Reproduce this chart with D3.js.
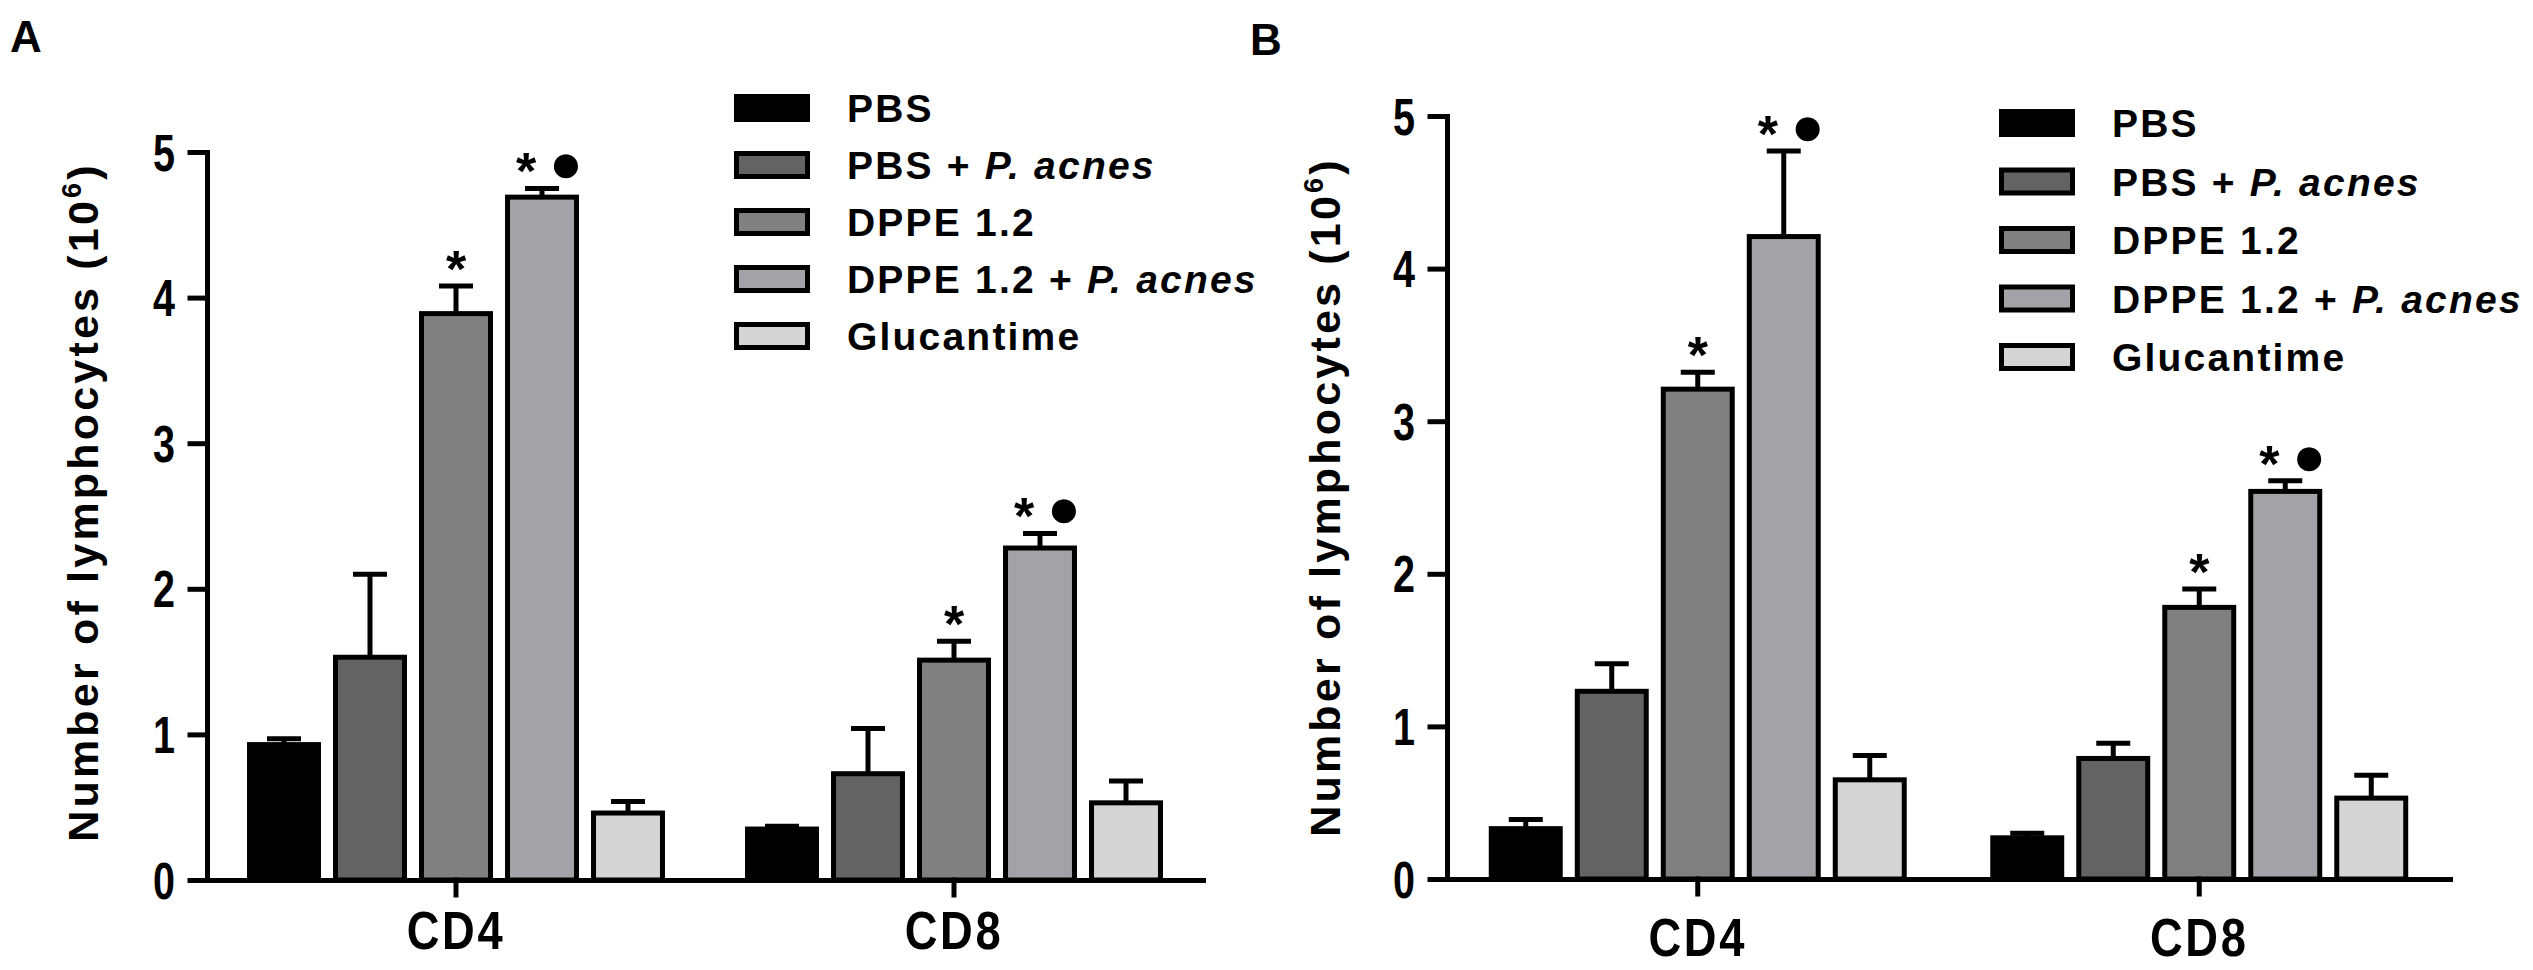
<!DOCTYPE html>
<html>
    <head>
        <meta charset="utf-8">
        <title>Number of lymphocytes</title>
        <script src="https://d3js.org/d3.v7.min.js" charset="utf-8"></script>
        <style>
            body { margin: 0; background: #fff; }
            svg { display: block; }
            text { font-family: "Liberation Sans", Arial, sans-serif; font-weight: bold; fill: #000; }
            .axis path, .axis line { stroke: #000; stroke-width: 5px; stroke-linecap: square; }
            .bar { stroke: #000; stroke-width: 5px; }
            .err { stroke: #000; stroke-width: 5px; }
        </style>
    </head>
    <body>
        <script>
            // categories and treatment groups
            var categories = ["CD4", "CD8"];
            var treatments = ["PBS", "PBS + P. acnes", "DPPE 1.2", "DPPE 1.2 + P. acnes", "Glucantime"];
            var yTicks = [0, 1, 2, 3, 4, 5];

            // panel A (mean and SEM, 10^6 cells)
            var meanA_CD4 = [0.93, 1.53, 3.89, 4.69, 0.46];
            var semA_CD4  = [0.04, 0.57, 0.19, 0.06, 0.08];
            var meanA_CD8 = [0.35, 0.73, 1.51, 2.28, 0.53];
            var semA_CD8  = [0.02, 0.31, 0.13, 0.10, 0.15];

            // panel B
            var meanB_CD4 = [0.33, 1.23, 3.21, 4.21, 0.65];
            var semB_CD4  = [0.06, 0.18, 0.11, 0.56, 0.16];
            var meanB_CD8 = [0.27, 0.79, 1.78, 2.54, 0.53];
            var semB_CD8  = [0.03, 0.10, 0.12, 0.07, 0.15];

            // significance marks per treatment (same in every group)
            var marks = ["", "", "*", "*●", ""];

            var fills = ["#000000", "#636363", "#808080", "#a3a3a7", "#d5d5d5"];

            var svg = d3.select("body").append("svg")
                        .attr("width", 2533)
                        .attr("height", 970);

            function panel(cfg) {
                var g = svg.append("g");

                var y = d3.scaleLinear().domain([0, 5]).range([cfg.y0, cfg.y5]);
                var xOuter = d3.scaleBand().domain(categories).range([cfg.x0, cfg.x1]).padding(0);
                var xInner = d3.scaleBand().domain(treatments).range([-215, 215])
                                .paddingInner(0.14).paddingOuter(0.07);

                var rows = [];
                categories.forEach(function(c, ci) {
                    treatments.forEach(function(t, ti) {
                        rows.push({
                            cat: c, t: t, i: ti,
                            mean: cfg.means[ci][ti],
                            sem: cfg.sems[ci][ti],
                            mark: marks[ti],
                            cx: xOuter(c) + xOuter.bandwidth() / 2 + xInner(t) + xInner.bandwidth() / 2
                        });
                    });
                });

                // bars
                g.selectAll(".bar")
                    .data(rows)
                  .enter().append("rect")
                    .attr("class", "bar")
                    .attr("x", function(d) { return d.cx - xInner.bandwidth() / 2 + 2.5; })
                    .attr("width", xInner.bandwidth() - 5)
                    .attr("y", function(d) { return y(d.mean); })
                    .attr("height", function(d) { return cfg.y0 - y(d.mean); })
                    .attr("fill", function(d) { return fills[d.i]; });

                // error bars (upper only)
                var eb = g.selectAll(".errg")
                    .data(rows)
                  .enter().append("g");
                eb.append("line")
                    .attr("class", "err")
                    .attr("x1", function(d) { return d.cx; })
                    .attr("x2", function(d) { return d.cx; })
                    .attr("y1", function(d) { return y(d.mean); })
                    .attr("y2", function(d) { return y(d.mean + d.sem); });
                eb.append("line")
                    .attr("class", "err")
                    .attr("x1", function(d) { return d.cx - 17; })
                    .attr("x2", function(d) { return d.cx + 17; })
                    .attr("y1", function(d) { return y(d.mean + d.sem); })
                    .attr("y2", function(d) { return y(d.mean + d.sem); });

                // significance marks
                var sig = rows.filter(function(d) { return d.mark; });
                g.selectAll(".star")
                    .data(sig)
                  .enter().append("text")
                    .attr("text-anchor", "middle")
                    .attr("font-size", 52)
                    .attr("x", function(d) { return d.mark.length > 1 ? d.cx - 16 : d.cx; })
                    .attr("y", function(d) { return y(d.mean + d.sem) + 1; })
                    .text("*");
                g.selectAll(".dot")
                    .data(sig.filter(function(d) { return d.mark.length > 1; }))
                  .enter().append("text")
                    .attr("text-anchor", "middle")
                    .attr("font-size", 56)
                    .attr("x", function(d) { return d.cx + 24; })
                    .attr("y", function(d) { return y(d.mean + d.sem) - 6; })
                    .text("●");

                // y axis
                var ya = g.append("g")
                    .attr("class", "axis")
                    .attr("transform", "translate(" + cfg.x0 + ",0)")
                    .call(d3.axisLeft(y).tickValues(yTicks).tickFormat(d3.format("d"))
                            .tickSize(17).tickSizeOuter(0));
                ya.selectAll("text")
                    .attr("x", null)
                    .attr("dy", null)
                    .attr("font-size", 52)
                    .attr("font-family", null)
                    .attr("transform", "translate(-32,18) scale(0.76,1)");

                // x axis
                var xa = g.append("g")
                    .attr("class", "axis")
                    .attr("transform", "translate(0," + cfg.y0 + ")")
                    .call(d3.axisBottom(xOuter).tickSize(15).tickSizeOuter(0));
                xa.selectAll("text")
                    .attr("y", null)
                    .attr("dy", null)
                    .attr("font-size", 54)
                    .attr("font-family", null)
                    .attr("letter-spacing", 3)
                    .attr("transform", "translate(0," + cfg.xLab + ") scale(0.84,1)");

                // y title
                var title = g.append("text")
                    .attr("text-anchor", "middle")
                    .attr("font-size", 43)
                    .attr("letter-spacing", 3.2)
                    .attr("transform", "translate(" + cfg.titleX + "," + cfg.titleY + ") rotate(-90)");
                title.append("tspan").text("Number of lymphocytes (10");
                title.append("tspan").attr("font-size", 27).attr("dy", -17).text("6");
                title.append("tspan").attr("dy", 17).text(")");

                // panel letter
                g.append("text")
                    .attr("x", cfg.letterX)
                    .attr("y", cfg.letterY)
                    .attr("font-size", 44)
                    .text(cfg.letter);

                // legend
                var lg = g.selectAll(".leg")
                    .data(treatments)
                  .enter().append("g")
                    .attr("transform", function(d, i) {
                        return "translate(" + cfg.legX + "," + (cfg.legY + i * cfg.legStep) + ")";
                    });
                lg.append("rect")
                    .attr("class", "bar")
                    .attr("x", 2.5)
                    .attr("y", -11.5)
                    .attr("width", 71)
                    .attr("height", 23)
                    .attr("fill", function(d, i) { return fills[i]; });
                var lt = lg.append("text")
                    .attr("x", 113)
                    .attr("y", 14)
                    .attr("font-size", 39)
                    .attr("letter-spacing", 2.2);
                lt.append("tspan").text(function(d) { return d.split("P. acnes")[0]; });
                lt.append("tspan")
                    .attr("font-style", "italic")
                    .text(function(d) { return d.indexOf("P. acnes") >= 0 ? "P. acnes" : ""; });
            }

            panel({
                letter: "A", letterX: 10, letterY: 52,
                x0: 207, x1: 1203, y0: 880, y5: 152,
                means: [meanA_CD4, meanA_CD8], sems: [semA_CD4, semA_CD8],
                xLab: 69, titleX: 98, titleY: 502,
                legX: 734, legY: 108, legStep: 57
            });

            panel({
                letter: "B", letterX: 1250, letterY: 55,
                x0: 1447, x1: 2450, y0: 879, y5: 116,
                means: [meanB_CD4, meanB_CD8], sems: [semB_CD4, semB_CD8],
                xLab: 77, titleX: 1340, titleY: 497,
                legX: 1999, legY: 123, legStep: 58.5
            });
        </script>
    </body>
</html>
